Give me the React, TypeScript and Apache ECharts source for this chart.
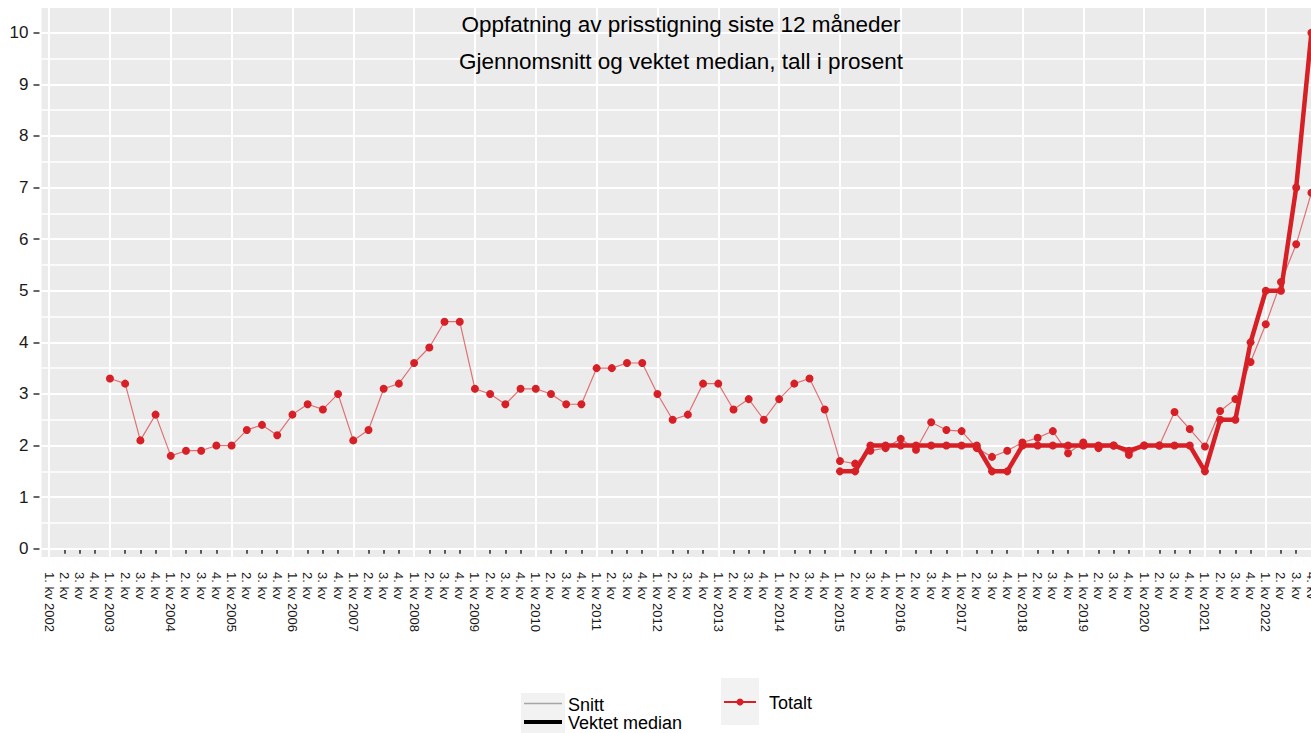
import React, { useEffect, useRef } from 'react';
import * as echarts from 'echarts';

const years = [2002, 2003, 2004, 2005, 2006, 2007, 2008, 2009, 2010, 2011, 2012, 2013, 2014, 2015, 2016, 2017, 2018, 2019, 2020, 2021, 2022];
const quarterLabels = ['1. kv', '2. kv', '3. kv', '4. kv'];
const categories: string[] = years.flatMap((y) => quarterLabels.map((q, i) => (i === 0 ? `${q} ${y}` : q)));

// Snitt (gjennomsnitt), fra 1. kv 2003
const snittStart = 4;
const snittValues = [
  3.3, 3.2, 2.1, 2.6,
  1.8, 1.9, 1.9, 2.0,
  2.0, 2.3, 2.4, 2.2,
  2.6, 2.8, 2.7, 3.0,
  2.1, 2.3, 3.1, 3.2,
  3.6, 3.9, 4.4, 4.4,
  3.1, 3.0, 2.8, 3.1,
  3.1, 3.0, 2.8, 2.8,
  3.5, 3.5, 3.6, 3.6,
  3.0, 2.5, 2.6, 3.2,
  3.2, 2.7, 2.9, 2.5,
  2.9, 3.2, 3.3, 2.7,
  1.7, 1.65, 1.9, 1.95,
  2.13, 1.92, 2.45, 2.3,
  2.28, 1.95, 1.78, 1.9,
  2.06, 2.15, 2.28, 1.85,
  2.06, 1.95, 2.0, 1.82,
  2.0, 2.0, 2.65, 2.32,
  1.98, 2.67, 2.9, 3.62,
  4.35, 5.17, 5.9, 6.9,
];

// Vektet median, fra 1. kv 2015
const medianStart = 52;
const medianValues = [
  1.5, 1.5, 2.0, 2.0,
  2.0, 2.0, 2.0, 2.0,
  2.0, 2.0, 1.5, 1.5,
  2.0, 2.0, 2.0, 2.0,
  2.0, 2.0, 2.0, 1.9,
  2.0, 2.0, 2.0, 2.0,
  1.5, 2.5, 2.5, 4.0,
  5.0, 5.0, 7.0, 10.0,
];

const yTickValues = [0, 1, 2, 3, 4, 5, 6, 7, 8, 9, 10];
const yGridValues = [0, 0.5, 1, 1.5, 2, 2.5, 3, 3.5, 4, 4.5, 5, 5.5, 6, 6.5, 7, 7.5, 8, 8.5, 9, 9.5, 10];

const titleLine1 = 'Oppfatning av prisstigning siste 12 måneder';
const titleLine2 = 'Gjennomsnitt og vektet median, tall i prosent';

const RED = '#d71f26';
const FONT = "'Liberation Sans', Arial, sans-serif";

function alignData(values: number[], start: number): (number | null)[] {
  return categories.map((_, i) => (i >= start && i - start < values.length ? values[i - start] : null));
}

export default function App() {
  const ref = useRef<HTMLDivElement>(null);

  useEffect(() => {
    document.body.style.margin = '0';
    if (!ref.current) return;
    const chart = echarts.init(ref.current, undefined, { renderer: 'svg' });

    const yearIdx = categories.map((c, i) => (c.length > 5 ? i : -1)).filter((i) => i >= 0);

    const gridLines: any[] = [
      ...yGridValues.map((v) => ({
        yAxis: v,
        lineStyle: { color: '#ffffff', width: Number.isInteger(v) ? 2 : 1.6, type: 'solid' },
      })),
      ...yearIdx.map((i) => ({
        xAxis: i,
        lineStyle: { color: '#ffffff', width: 2, type: 'solid' },
      })),
    ];

    const option: any = {
      animation: false,
      textStyle: { fontFamily: FONT },
      grid: {
        left: 41.5,
        width: 1277.5,
        top: 8,
        bottom: 176,
        containLabel: false,
        outerBoundsMode: 'none',
        show: true,
        backgroundColor: '#EBEBEB',
        borderWidth: 0,
      },
      xAxis: {
        type: 'category',
        data: categories,
        boundaryGap: true,
        offset: 3,
        axisLine: { show: false },
        axisTick: { show: true, alignWithLabel: true, interval: 0, length: 5, lineStyle: { color: '#333', width: 1.6 } },
        axisLabel: { interval: 0, rotate: -90, margin: 12, fontSize: 13, color: '#1a1a1a', fontFamily: FONT },
        splitLine: { show: false },
      },
      yAxis: {
        type: 'value',
        min: -0.16,
        max: 10.48,
        offset: 2,
        axisLine: { show: false },
        axisTick: { show: true, length: 6, customValues: yTickValues, lineStyle: { color: '#333', width: 1.5 } },
        axisLabel: { customValues: yTickValues, margin: 11, fontSize: 17, color: '#1a1a1a', fontFamily: FONT },
        splitLine: { show: false },
      },
      graphic: [
        { type: 'text', x: 681, y: 24, z: 50, style: { text: titleLine1, fontSize: 22.5, fontFamily: FONT, fill: '#000', align: 'center', verticalAlign: 'middle' } },
        { type: 'text', x: 681, y: 61, z: 50, style: { text: titleLine2, fontSize: 22.5, fontFamily: FONT, fill: '#000', align: 'center', verticalAlign: 'middle' } },
        // legend 1
        { type: 'rect', z: 50, shape: { x: 521, y: 693, width: 44, height: 45 }, style: { fill: '#F2F2F2' } },
        { type: 'line', z: 51, shape: { x1: 524, y1: 703.5, x2: 562, y2: 703.5 }, style: { stroke: '#a6a6a6', lineWidth: 1.5 } },
        { type: 'line', z: 51, shape: { x1: 524, y1: 722, x2: 562, y2: 722 }, style: { stroke: '#000', lineWidth: 4 } },
        { type: 'text', z: 51, x: 568, y: 704.5, style: { text: 'Snitt', fontSize: 18, fontFamily: FONT, fill: '#000', verticalAlign: 'middle' } },
        { type: 'text', z: 51, x: 568, y: 723, style: { text: 'Vektet median', fontSize: 18, fontFamily: FONT, fill: '#000', verticalAlign: 'middle' } },
        // legend 2
        { type: 'rect', z: 50, shape: { x: 721, y: 678, width: 38, height: 47 }, style: { fill: '#F2F2F2' } },
        { type: 'line', z: 51, shape: { x1: 724, y1: 702, x2: 756, y2: 702 }, style: { stroke: RED, lineWidth: 2 } },
        { type: 'circle', z: 52, shape: { cx: 740, cy: 702, r: 3.5 }, style: { fill: RED } },
        { type: 'text', z: 51, x: 769, y: 703, style: { text: 'Totalt', fontSize: 18, fontFamily: FONT, fill: '#000', verticalAlign: 'middle' } },
      ],
      series: [
        {
          name: 'Snitt',
          type: 'line',
          data: alignData(snittValues, snittStart),
          symbol: 'circle',
          symbolSize: 8,
          showAllSymbol: true,
          lineStyle: { width: 1.2, color: 'rgba(215,31,38,0.6)' },
          itemStyle: { color: RED },
          z: 3,
          markLine: {
            z: 1,
            silent: true,
            symbol: 'none',
            label: { show: false },
            animation: false,
            data: gridLines,
          },
        },
        {
          name: 'Vektet median',
          type: 'line',
          data: alignData(medianValues, medianStart),
          symbol: 'circle',
          symbolSize: 8,
          showAllSymbol: true,
          lineStyle: { width: 4.5, color: RED },
          itemStyle: { color: RED },
          z: 4,
        },
      ],
    };

    chart.setOption(option);
    return () => chart.dispose();
  }, []);

  return <div ref={ref} style={{ width: 1311, height: 733 }} />;
}
